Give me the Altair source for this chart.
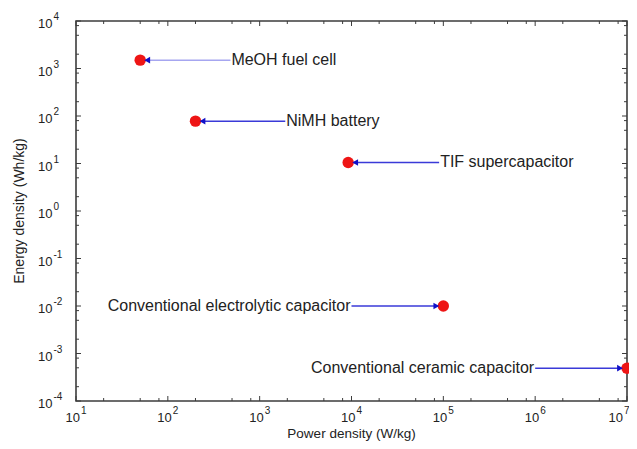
import altair as alt
import pandas as pd

# ---- data ----
names = ["MeOH fuel cell", "NiMH battery", "TIF supercapacitor",
         "Conventional electrolytic capacitor", "Conventional ceramic capacitor"]
power = [50, 200, 9200, 1.0e5, 1.0e7]          # W/kg (point)
energy = [1500, 78, 10.5, 0.01, 4.9e-4]        # Wh/kg (point)
label_power = [480, 1900, 90000, 1.0e4, 1.0e6]  # W/kg where the arrow starts (label anchor)
side = ["left", "left", "left", "right", "right"]
line_tone = ["light", "dark", "dark", "dark", "dark"]

x_major = [1e1, 1e2, 1e3, 1e4, 1e5, 1e6, 1e7]
x_exp = ["1", "2", "3", "4", "5", "6", "7"]
y_major = [1e-4, 1e-3, 1e-2, 1e-1, 1e0, 1e1, 1e2, 1e3, 1e4]
y_exp = ["-4", "-3", "-2", "-1", "0", "1", "2", "3", "4"]
minor_mult = [2, 5, 8]

x_title = "Power density (W/kg)"
y_title = "Energy density (Wh/kg)"

W, H = 551, 380
FONT = "Liberation Sans"
AX = "#3c3c3c"
TXT = "#222222"

df = pd.DataFrame({"name": names, "p": power, "e": energy, "lp": label_power,
                   "side": side, "tone": line_tone})
df["dir"] = ["left" if lp > p else "right" for lp, p in zip(label_power, power)]

x_minor = [m * d for d in x_major[:-1] for m in minor_mult]
y_minor = [m * d for d in y_major[:-1] for m in minor_mult]

xs = alt.Scale(type="log", domain=[1e1, 1e7], nice=False)
ys = alt.Scale(type="log", domain=[1e-4, 1e4], nice=False)


def X(f):
    return alt.X(f, type="quantitative", scale=xs, axis=None)


def Y(f):
    return alt.Y(f, type="quantitative", scale=ys, axis=None)


base = alt.Chart(df)

lines = base.mark_rule(strokeWidth=1.5).encode(
    x=X("lp"), x2="p", y=Y("e"),
    color=alt.Color("tone:N", scale=alt.Scale(domain=["light", "dark"],
                                              range=["#a6a6f0", "#3a3ad8"]), legend=None),
)
dots = base.mark_circle(size=130, color="#ee1515", opacity=1).encode(x=X("p"), y=Y("e"))
head_l = base.transform_filter("datum.dir == 'left'").mark_point(
    shape="triangle-left", filled=True, size=45, color="#1010c8", opacity=1, xOffset=7
).encode(x=X("p"), y=Y("e"))
head_r = base.transform_filter("datum.dir == 'right'").mark_point(
    shape="triangle-right", filled=True, size=45, color="#1010c8", opacity=1, xOffset=-7
).encode(x=X("p"), y=Y("e"))
txt_l = base.transform_filter("datum.side == 'left'").mark_text(
    align="left", baseline="middle", fontSize=16, font=FONT, color=TXT, dx=1
).encode(x=X("lp"), y=Y("e"), text="name:N")
txt_r = base.transform_filter("datum.side == 'right'").mark_text(
    align="right", baseline="middle", fontSize=16, font=FONT, color=TXT, dx=-1
).encode(x=X("lp"), y=Y("e"), text="name:N")

tk = dict(color=AX, strokeWidth=1)

# ticks, inward on all four sides (each side with its own table)
tick_layers = []
for where, y0, sgn in [("bottom", H, -1), ("top", 0, 1)]:
    for vals, ln in [(x_major, 5), (x_minor, 3)]:
        d = pd.DataFrame({"v": vals, "side": where, "len": ln})
        tick_layers.append(alt.Chart(d).mark_rule(**tk).encode(
            x=X("v"), y=alt.value(y0), y2=alt.value(y0 + sgn * ln)))
for where, x0, sgn in [("left", 0, 1), ("right", W, -1)]:
    for vals, ln in [(y_major, 5), (y_minor, 3)]:
        d = pd.DataFrame({"v": vals, "side": where, "len": ln})
        tick_layers.append(alt.Chart(d).mark_rule(**tk).encode(
            y=Y("v"), x=alt.value(x0), x2=alt.value(x0 + sgn * ln)))

# tick labels: "10" with a raised exponent
xl = pd.DataFrame({"v": x_major, "base": "10", "exp": x_exp})
yl = pd.DataFrame({"v": y_major, "base": "10", "exp": y_exp})

xl_in = alt.Chart(xl).transform_filter("datum.v < 1e7")
xl_end = alt.Chart(xl).transform_filter("datum.v >= 1e7")

xlab10 = xl_in.mark_text(align="right", baseline="middle", fontSize=13, font=FONT,
                         color=TXT, dx=4).encode(x=X("v"), y=alt.value(H + 17), text="base:N")
xlabe = xl_in.mark_text(align="left", baseline="middle", fontSize=10, font=FONT,
                        color=TXT, dx=5).encode(x=X("v"), y=alt.value(H + 10), text="exp:N")
xlab10_end = xl_end.mark_text(align="right", baseline="middle", fontSize=13, font=FONT,
                              color=TXT, dx=-4).encode(x=X("v"), y=alt.value(H + 17), text="base:N")
xlabe_end = xl_end.mark_text(align="left", baseline="middle", fontSize=10, font=FONT,
                             color=TXT, dx=-3).encode(x=X("v"), y=alt.value(H + 10), text="exp:N")
ylab10 = alt.Chart(yl).mark_text(align="left", baseline="middle", fontSize=13, font=FONT,
                                 color=TXT, dy=3).encode(y=Y("v"), x=alt.value(-38), text="base:N")
ylabe = alt.Chart(yl).mark_text(align="left", baseline="middle", fontSize=10, font=FONT,
                                color=TXT, dy=-4).encode(y=Y("v"), x=alt.value(-22.5), text="exp:N")

tx = alt.Chart(pd.DataFrame({"t": [x_title]})).mark_text(
    align="center", baseline="middle", fontSize=13.5, font=FONT, color=TXT).encode(
    x=alt.value(W / 2), y=alt.value(H + 33), text="t:N")
ty = alt.Chart(pd.DataFrame({"t": [y_title]})).mark_text(
    align="center", baseline="middle", fontSize=14, font=FONT, color=TXT, angle=270).encode(
    x=alt.value(-56), y=alt.value(H / 2), text="t:N")

chart = alt.layer(
    lines, *tick_layers, dots, head_l, head_r, txt_l, txt_r,
    xlab10, xlabe, xlab10_end, xlabe_end, ylab10, ylabe, tx, ty
).properties(
    width=W, height=H, background="white",
    autosize=alt.AutoSizeParams(type="none"),
    padding={"left": 68, "top": 13, "right": 2, "bottom": 40},
).configure_view(stroke=AX, strokeWidth=1.6)

chart.save("out.html", embed_options={"renderer": "svg", "actions": False})
